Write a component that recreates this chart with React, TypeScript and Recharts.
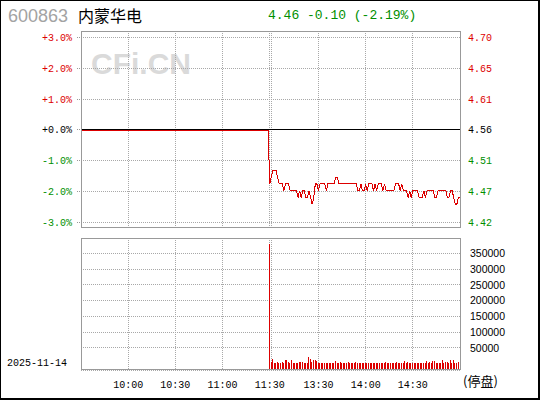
import React from "react";
import {
  LineChart,
  Line,
  BarChart,
  Bar,
  XAxis,
  YAxis,
  CartesianGrid,
  ReferenceLine,
} from "recharts";

// ── data ────────────────────────────────────────────────────────────────
const CODE = "600863";
const NAME = "内蒙华电";
const DATE = "2025-11-14";
const PREV_CLOSE = 4.56;

// minute index: 0 = 9:30 … 120 = 11:30, 121 = 13:00 … 241 = 15:00
const TICK_POS = [30, 60, 90, 120, 121, 151, 181, 211];
const TICK_LABELS = ["10:00", "10:30", "11:00", "11:30", "", "13:30", "14:00", "14:30"];

const PCT_TICKS = [3, 2, 1, 0, -1, -2, -3];
const PCT_DOMAIN = [-3.153, 3.218];

const VOL_TICKS = [50000, 100000, 150000, 200000, 250000, 300000, 350000];
const VOL_DOMAIN = [-20250, 399300];

// halted morning: flat at previous close
const AM_MIN = [0, 119];
const AM_PRICE = [4.56, 4.56];

// trading resumes at minute 120
const PM_START = 120;
const PM_PRICE = [
  4.48, 4.49, 4.5, 4.5, 4.5, 4.49, 4.48, 4.48, 4.48, 4.47,
  4.48, 4.48, 4.48, 4.47, 4.47, 4.47, 4.47, 4.47, 4.46, 4.47,
  4.46, 4.47, 4.47, 4.46, 4.46, 4.47, 4.46, 4.45, 4.46, 4.48,
  4.48, 4.47, 4.48, 4.48, 4.48, 4.48, 4.47, 4.48, 4.48, 4.48,
  4.48, 4.48, 4.49, 4.49, 4.48, 4.48, 4.48, 4.48, 4.48, 4.48,
  4.48, 4.48, 4.48, 4.48, 4.48, 4.48, 4.47, 4.47, 4.48, 4.47,
  4.47, 4.48, 4.47, 4.48, 4.48, 4.48, 4.47, 4.48, 4.47, 4.48,
  4.48, 4.48, 4.47, 4.48, 4.47, 4.47, 4.47, 4.47, 4.47, 4.47,
  4.48, 4.48, 4.48, 4.47, 4.48, 4.47, 4.47, 4.47, 4.46, 4.47,
  4.46, 4.47, 4.47, 4.47, 4.47, 4.46, 4.46, 4.46, 4.47, 4.46,
  4.47, 4.47, 4.47, 4.47, 4.47, 4.46, 4.46, 4.47, 4.47, 4.47,
  4.47, 4.47, 4.47, 4.46, 4.46, 4.47, 4.47, 4.46, 4.45, 4.45,
  4.46, 4.46,
];
const PM_VOL = [
  380000, 5600, 14100, 2400, 2400, 5600, 2400, 2400, 5600, 2400,
  10900, 10900, 5600, 2400, 10900, 2400, 2400, 2400, 2400, 4500,
  4500, 4500, 2400, 2400, 2400, 21500, 14100, 6700, 10900, 10900,
  8800, 2400, 2400, 2400, 2400, 2400, 2400, 2400, 2400, 2400,
  2400, 2400, 7700, 2400, 2400, 5600, 2400, 2400, 2400, 2400,
  4500, 2400, 2400, 2400, 2400, 4500, 2400, 2400, 2400, 2400,
  2400, 2400, 2400, 2400, 2400, 2400, 2400, 2400, 2400, 2400,
  2400, 2400, 2400, 2400, 5600, 2400, 2400, 2400, 2400, 2400,
  2400, 4500, 2400, 2400, 2400, 2400, 8800, 2400, 5600, 2400,
  2400, 2400, 2400, 2400, 2400, 2400, 2400, 2400, 2400, 2400,
  8800, 2400, 5600, 2400, 8800, 8800, 2400, 2400, 2400, 2400,
  10900, 2400, 5600, 5600, 2400, 10900, 2400, 10900, 2400, 2400,
  4500, null,
];

// ── styles ──────────────────────────────────────────────────────────────
const RED = "#dd0000";
const GREEN = "#008f00";
const GRID = "#a8a8a8";
const BOX = "#999999";
const MONO = '"Liberation Mono", "DejaVu Sans Mono", monospace';
const SANS = '"Liberation Sans", Arial, sans-serif';
const CJK = '"Noto Sans CJK SC", sans-serif';

const toPrice = (pct: number) => PREV_CLOSE * (1 + pct / 100);
const PRICE_TICKS = PCT_TICKS.map(toPrice);
const PRICE_DOMAIN = [toPrice(PCT_DOMAIN[0]), toPrice(PCT_DOMAIN[1])];

const priceRows = [
  ...AM_MIN.map((i, j) => ({ i, p: AM_PRICE[j] })),
  ...PM_PRICE.map((p, k) => ({ i: PM_START + k, p })),
];
const volRows = PM_VOL.map((v, k) => ({ i: PM_START + k, v }));

const last = PM_PRICE[PM_PRICE.length - 1];
const chg = last - PREV_CLOSE;
const chgPct = (chg / PREV_CLOSE) * 100;
const headline = `${last.toFixed(2)} ${chg.toFixed(2)} (${chgPct.toFixed(2)}%)`;

const pctOf = (v: number) => Math.round((v / PREV_CLOSE - 1) * 100);
const signColor = (p: number) => (p > 0 ? RED : p < 0 ? GREEN : "#000");

const PctTick = ({ x, y, payload }: any) => {
  const p = pctOf(payload.value);
  const label = `${p >= 0 ? "+" : "-"}${Math.abs(p).toFixed(1)}%`;
  return (
    <text x={x} y={y} dy="0.35em" textAnchor="end" fill={signColor(p)} fontFamily={MONO} fontSize={10}>
      {label}
    </text>
  );
};

const PriceTick = ({ x, y, payload }: any) => {
  const p = pctOf(payload.value);
  return (
    <text x={x} y={y} dy="0.35em" textAnchor="start" fill={signColor(p)} fontFamily={MONO} fontSize={10}>
      {payload.value.toFixed(2)}
    </text>
  );
};

// 1px crisp volume bars
const VolBar = (props: any) => {
  const { x, y, width, height, fill } = props;
  if (height == null || isNaN(height) || height <= 0) return null;
  const left = Math.round(x + width / 2 - 0.5);
  const top = Math.round(y);
  const bottom = Math.round(y + height);
  return <rect x={left} y={top} width={1} height={bottom - top} fill={fill} shapeRendering="crispEdges" />;
};

const abs = (style: React.CSSProperties): React.CSSProperties => ({ position: "absolute", ...style });

export default function App() {
  return (
    <div style={abs({ left: 0, top: 0, width: 540, height: 400, background: "#fff", overflow: "hidden" })}>
      {/* header */}
      <div style={abs({ left: 8, top: 6, fontFamily: SANS, fontSize: 18, lineHeight: "20px", color: "#a3a3a3" })}>{CODE}</div>
      <div style={abs({ left: 78, top: 5, fontFamily: CJK, fontSize: 16, lineHeight: "20px", color: "#000" })}>{NAME}</div>
      <div style={abs({ left: 268, top: 6, fontFamily: MONO, fontSize: 13, lineHeight: "20px", color: GREEN, whiteSpace: "pre" })}>{headline}</div>

      {/* watermark */}
      <div style={abs({ left: 91, top: 47, fontFamily: SANS, fontWeight: 700, fontSize: 30, lineHeight: "34px", color: "#dadada" })}>CFi.CN</div>

      {/* price panel */}
      <div style={abs({ left: 0, top: 0 })}>
        <LineChart width={540} height={240} data={priceRows} margin={{ top: 31, right: 20, bottom: 13, left: 21 }}>
          <CartesianGrid stroke={GRID} strokeDasharray="1 1" shapeRendering="crispEdges" />
          <XAxis type="number" dataKey="i" domain={[0, 241]} ticks={TICK_POS} interval={0} hide />
          <YAxis
            domain={PRICE_DOMAIN}
            ticks={PRICE_TICKS}
            interval={0}
            allowDataOverflow
            width={60}
            axisLine={false}
            tickSize={4}
            tickMargin={5}
            tickLine={{ stroke: BOX, strokeDasharray: "1 1", shapeRendering: "crispEdges" }}
            tick={<PctTick />}
          />
          <YAxis
            yAxisId="r"
            orientation="right"
            domain={PRICE_DOMAIN}
            ticks={PRICE_TICKS}
            interval={0}
            allowDataOverflow
            width={60}
            axisLine={false}
            tickLine={false}
            tickMargin={2}
            tick={<PriceTick />}
          />
          <ReferenceLine y={PREV_CLOSE} stroke="#000" shapeRendering="crispEdges" />
          <Line
            type="linear"
            dataKey="p"
            stroke={RED}
            strokeWidth={1}
            dot={false}
            activeDot={false}
            isAnimationActive={false}
            shapeRendering="crispEdges"
          />
        </LineChart>
      </div>

      {/* volume panel */}
      <div style={abs({ left: 0, top: 230 })}>
        <BarChart width={540} height={170} data={volRows} margin={{ top: 8, right: 20, bottom: 10, left: 81 }} barSize={1}>
          <CartesianGrid stroke={GRID} strokeDasharray="1 1" shapeRendering="crispEdges" />
          <XAxis
            type="number"
            dataKey="i"
            domain={[0, 241]}
            ticks={TICK_POS}
            interval={0}
            height={20}
            axisLine={false}
            tickLine={false}
            tickMargin={5}
            tick={{ fill: "#000", fontFamily: MONO, fontSize: 10 }}
            tickFormatter={(v: number) => TICK_LABELS[TICK_POS.indexOf(v)] ?? ""}
          />
          <YAxis
            orientation="right"
            domain={VOL_DOMAIN}
            ticks={VOL_TICKS}
            interval={0}
            allowDataOverflow
            width={60}
            axisLine={false}
            tickLine={false}
            tickMargin={4}
            tick={{ fill: "#000", fontFamily: SANS, fontSize: 10.5, textAnchor: "start" }}
          />
          <Bar
            dataKey={(d: any) => (d.v == null ? null : [VOL_DOMAIN[0], d.v])}
            fill={RED}
            shape={<VolBar />}
            isAnimationActive={false}
          />
        </BarChart>
      </div>

      {/* panel frames */}
      <div style={abs({ left: 81, top: 31, width: 380, height: 197, boxSizing: "border-box", border: `1px solid ${BOX}` })} />
      <div style={abs({ left: 81, top: 238, width: 380, height: 132, boxSizing: "border-box", border: `1px solid ${BOX}` })} />

      {/* footer texts */}
      <div style={abs({ left: 7, top: 357, fontFamily: MONO, fontSize: 10, lineHeight: "13px", color: "#000" })}>{DATE}</div>
      <div style={abs({ left: 463, top: 372, fontFamily: CJK, fontSize: 13, lineHeight: "17px", color: "#000" })}>(停盘)</div>

      {/* outer frame */}
      <div style={abs({ left: 0, top: 0, width: 540, height: 400, boxSizing: "border-box", borderStyle: "solid", borderColor: "#000", borderWidth: "1px 2px 2px 1px", pointerEvents: "none" })} />
    </div>
  );
}
